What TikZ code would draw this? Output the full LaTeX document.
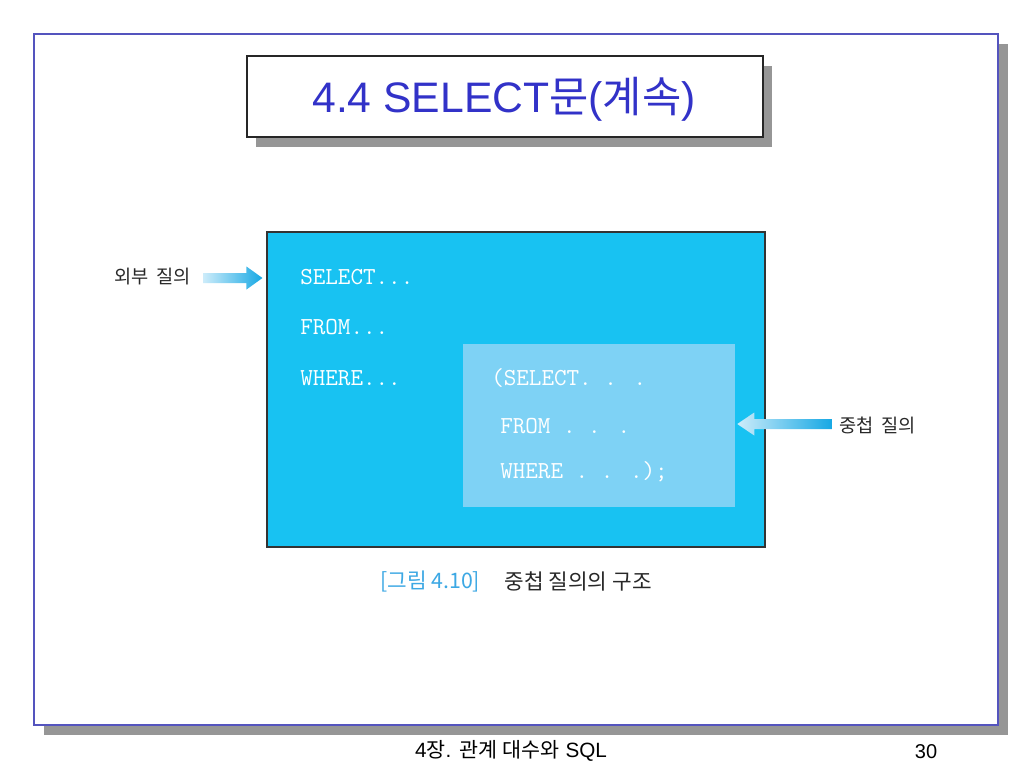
\documentclass[tikz,border=0pt]{standalone}
\usepackage{fontspec}
\setmainfont{Liberation Sans}
\newfontfamily\kr{Noto Sans CJK KR}
\usepackage{xcolor}
\usetikzlibrary{positioning, calc, fit, shadows}

\definecolor{framecol}{RGB}{84,84,190}
\definecolor{shadowgray}{RGB}{150,150,150}
\definecolor{titleblue}{RGB}{50,50,200}
\definecolor{outerblue}{RGB}{24,194,242}
\definecolor{innerblue}{RGB}{126,210,245}
\definecolor{arrowblue}{RGB}{22,168,228}
\definecolor{arrowpale}{RGB}{205,236,250}
\definecolor{capblue}{RGB}{60,168,228}
\definecolor{textgray}{RGB}{40,40,40}

\begin{document}
\begin{tikzpicture}[x=0.75pt, y=-0.75pt,
    frame/.style={draw=framecol, line width=1.5pt, fill=white, inner sep=0pt,
        drop shadow={shadow xshift=7.5pt, shadow yshift=-7.5pt, fill=shadowgray, opacity=1}},
    titlebox/.style={draw=black!85, line width=1.1pt, fill=white, inner sep=0pt,
        drop shadow={shadow xshift=6.5pt, shadow yshift=-7.5pt, fill=shadowgray, opacity=1}},
    sqlbox/.style={inner sep=0pt},
    code/.style={font=\ttfamily\fontsize{18.3}{20}\selectfont, text=white, inner sep=0pt, anchor=west},
    lbl/.style={font=\kr\fontsize{14}{16}\selectfont, text=textgray, inner sep=0pt, anchor=west},
    caplbl/.style={lbl, font=\kr\fontsize{16}{18}\selectfont},
    blockarrow/.style={draw=none}
]
    \useasboundingbox (0,0) rectangle (1024,768);

    % slide frame and title
    \node[frame, fit={(34,34) (998,725)}] (slide) {};
    \node[titlebox, fit={(247,56) (763,137)}] (tbox) {};
    \node[font=\fontsize{32}{36}\selectfont, text=titleblue, inner sep=0pt] (title) at (504,99)
        {4.4 SELECT{\kr 문}({\kr 계속})};

    % outer query box
    \node[sqlbox, draw=black!80, line width=0.8pt, fill=outerblue, fit={(267,232) (765,547)}] (outer) {};
    \node[sqlbox, fill=innerblue, fit={(463,344) (735,507)}] (inner) {};

    \node[code] (sel1) at (300,277) {SELECT...};
    \node[code] (from1) at (300,327) {FROM...};
    \node[code] (where1) at (300,378) {WHERE...};

    \node[code] (sel2) at (491,378) {(SELECT. . .};
    \node[code] (from2) at (500,426) {FROM . . .};
    \node[code] (where2) at (500,472) {WHERE . . .);};

    % labels and arrows
    \node[lbl] (outerlbl) at (114,277) {외부\hspace{0.4em}질의};
    \node[lbl] (innerlbl) at (839,425) {중첩\hspace{0.4em}질의};

    \coordinate (otail) at (203,278);
    \coordinate (otip) at ($(outer.west |- otail)+(-4,0)$);
    \shade[blockarrow, left color=arrowpale, right color=arrowblue]
        ($(otail)+(0,-5)$) -- ($(otip)+(-16,-5)$) -- ($(otip)+(-16,-11.5)$) -- (otip)
        -- ($(otip)+(-16,11.5)$) -- ($(otip)+(-16,5)$) -- ($(otail)+(0,5)$) -- cycle;

    \coordinate (itail) at (832,424);
    \coordinate (itip) at ($(inner.east |- itail)+(2,0)$);
    \shade[blockarrow, left color=arrowpale, right color=arrowblue]
        (itip) -- ($(itip)+(17,-11.5)$) -- ($(itip)+(17,-5)$) -- ($(itail)+(0,-5)$)
        -- ($(itail)+(0,5)$) -- ($(itip)+(17,5)$) -- ($(itip)+(17,11.5)$) -- cycle;

    % caption
    \node[caplbl, text=capblue] (capnum) at (380,581) {[그림 4.10]};
    \node[caplbl, right=18pt of capnum] (captext) {중첩 질의의 구조};

    % footer
    \node[font=\fontsize{15.5}{18}\selectfont, inner sep=0pt] (footer) at (511,751)
        {4{\kr 장}. {\kr 관계} {\kr 대수와} SQL};
    \node[font=\fontsize{15}{18}\selectfont, inner sep=0pt] (pageno) at (926,752) {30};
\end{tikzpicture}
\end{document}
